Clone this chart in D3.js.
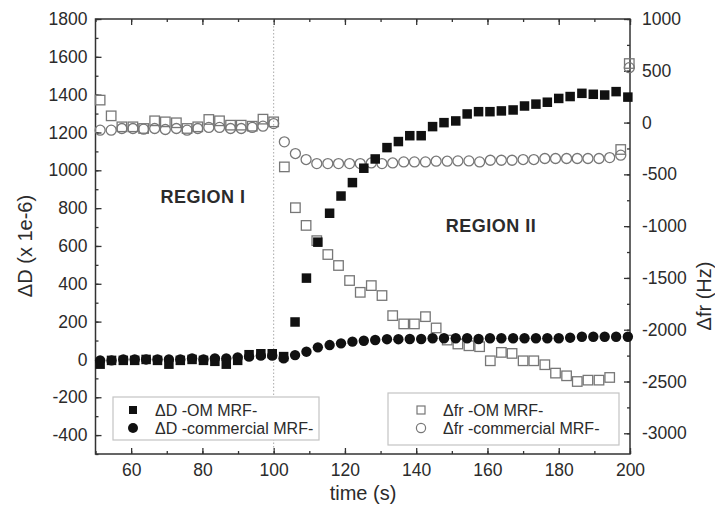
<!DOCTYPE html>
<html>
<head>
<meta charset="utf-8">
<script src="https://cdn.jsdelivr.net/npm/d3@7"></script>
<style>
  body { margin: 0; background: #fff; }
  text { font-family: "Liberation Sans", Arial, sans-serif; fill: #2b2b2b; }
</style>
</head>
<body>
<svg id="chart" width="715" height="508"></svg>
<script>
// ΔD series (left axis), sampled every ~3.2 s
const timeD = [51.3, 54.5, 57.8, 61, 64.2, 67.4, 70.6, 73.8, 77.1, 80.3, 83.5, 86.7, 89.9, 93.1, 96.4, 99.6,
  102.8, 106, 109.2, 112.4, 115.7, 118.9, 122.1, 125.3, 128.5, 131.8, 135, 138.2, 141.4, 144.6, 147.8,
  151.1, 154.3, 157.5, 160.7, 163.9, 167.2, 170.4, 173.6, 176.8, 180, 183.2, 186.5, 189.7, 192.9, 196.1, 199.4];
const dOM = [-25, -5, -5, -5, 0, -5, -25, -5, 0, -5, -10, -25, -5, 25, 30, 30,
  15, 198, 430, 620, 773, 864, 935, 1011, 1060, 1120, 1152, 1183, 1183, 1231, 1252,
  1261, 1298, 1310, 1310, 1314, 1319, 1340, 1350, 1360, 1380, 1390, 1407, 1402, 1398, 1416, 1387];
const dCommercial = [-5, -5, 0, 0, 0, 0, 0, 0, 5, 0, 5, 5, 10, 15, 20, 20,
  6, 23, 41, 64, 76, 85, 94, 99, 103, 107, 107, 108, 108, 112, 112,
  112, 112, 108, 112, 112, 112, 112, 112, 112, 112, 115, 120, 120, 120, 120, 120];

// Δfr series (right axis), sampled every ~3 s
const timeFr = [51.3, 54.4, 57.4, 60.5, 63.5, 66.6, 69.6, 72.7, 75.7, 78.7, 81.8, 84.8, 87.9, 90.9, 94, 97, 100,
  103, 106.1, 109.1, 112.1, 115.2, 118.2, 121.3, 124.3, 127.4, 130.4, 133.4, 136.5, 139.5, 142.6, 145.6,
  148.7, 151.7, 154.8, 157.8, 160.8, 163.9, 166.9, 170, 173, 176.1, 179.1, 182.2, 185.2, 188.2, 191.3,
  194.3, 197.4, 199.8];
const frOM = [217, 65, -41, -41, -57, 17, 7, -2, -57, -41, 30, 17, -25, -25, -35, 33, 7,
  -428, -822, -993, -1140, -1274, -1380, -1525, -1639, -1574, -1670, -1864, -1944, -1944, -1874, -1983,
  -2100, -2138, -2155, -2164, -2300, -2219, -2229, -2300, -2300, -2338, -2419, -2445, -2500, -2487, -2487,
  -2461, -260, 570];
const frCommercial = [-73, -73, -57, -57, -64, -57, -67, -57, -73, -57, -47, -47, -57, -57, -47, -35, -10,
  -186, -299, -357, -396, -396, -396, -396, -396, -390, -396, -390, -380, -380, -380, -373,
  -373, -370, -370, -380, -364, -364, -364, -357, -357, -347, -347, -347, -347, -347, -347,
  -338, -315, 530];

const xTicks = [60, 80, 100, 120, 140, 160, 180, 200];
const leftTicks = [-400, -200, 0, 200, 400, 600, 800, 1000, 1200, 1400, 1600, 1800];
const rightTicks = [-3000, -2500, -2000, -1500, -1000, -500, 0, 500, 1000];
const legendLeft = ["\u0394D -OM MRF-", "\u0394D -commercial MRF-"];
const legendRight = ["\u0394fr -OM MRF-", "\u0394fr -commercial MRF-"];

const svg = d3.select("#chart");
const m = { left: 95.5, right: 630, top: 19, bottom: 454 };

const x = d3.scaleLinear().domain([50, 200]).range([m.left, m.right]);
const yL = d3.scaleLinear().domain([-500, 1800]).range([m.bottom, m.top]);
const yR = d3.scaleLinear().domain([-3200, 1000]).range([m.bottom, m.top]);

const ink = "#333";
const grey = "#777";
const plain = d => String(d); // hyphen minus, no thousands separator

function styleAxis(g) {
  g.select(".domain").remove();
  g.selectAll("line").attr("stroke", ink).attr("stroke-width", 1.3);
  g.selectAll("text").style("font-size", "17.5px").attr("fill", "#2b2b2b");
}

// minor ticks
const minorX = d3.range(50, 201, 10);
const minorL = d3.range(-500, 1801, 100);
const minorR = d3.range(-3250, 1001, 250).filter(v => v >= -3200);

svg.append("g").attr("transform", `translate(0,${m.bottom})`)
  .call(d3.axisBottom(x).tickValues(minorX).tickSize(-3).tickFormat("")).call(styleAxis);
svg.append("g").attr("transform", `translate(0,${m.top})`)
  .call(d3.axisTop(x).tickValues(minorX).tickSize(-3).tickFormat("")).call(styleAxis);
svg.append("g").attr("transform", `translate(${m.left},0)`)
  .call(d3.axisLeft(yL).tickValues(minorL).tickSize(-3).tickFormat("")).call(styleAxis);
svg.append("g").attr("transform", `translate(${m.right},0)`)
  .call(d3.axisRight(yR).tickValues(minorR).tickSize(-3).tickFormat("")).call(styleAxis);

// major ticks
svg.append("g").attr("transform", `translate(0,${m.bottom})`)
  .call(d3.axisBottom(x).tickValues(xTicks).tickSize(-6).tickPadding(10).tickFormat(plain)).call(styleAxis);
svg.append("g").attr("transform", `translate(0,${m.top})`)
  .call(d3.axisTop(x).tickValues(xTicks).tickSize(-6).tickFormat("")).call(styleAxis);
svg.append("g").attr("transform", `translate(${m.left},0)`)
  .call(d3.axisLeft(yL).tickValues(leftTicks).tickSize(-6).tickPadding(8).tickFormat(plain)).call(styleAxis);
svg.append("g").attr("transform", `translate(${m.right},0)`)
  .call(d3.axisRight(yR).tickValues(rightTicks).tickSize(-6).tickPadding(12).tickFormat(plain)).call(styleAxis);

// region divider
svg.append("line")
  .attr("x1", x(100)).attr("x2", x(100)).attr("y1", m.top).attr("y2", m.bottom)
  .attr("stroke", "#aaa").attr("stroke-width", 1).attr("stroke-dasharray", "1.5,2");

// frame
svg.append("rect")
  .attr("x", m.left).attr("y", m.top).attr("width", m.right - m.left).attr("height", m.bottom - m.top)
  .attr("fill", "none").attr("stroke", ink).attr("stroke-width", 1.5);

// axis titles
svg.append("text").attr("x", 363).attr("y", 500).attr("text-anchor", "middle")
  .style("font-size", "20px").text("time (s)");
svg.append("text").attr("transform", "translate(32,246) rotate(-90)").attr("text-anchor", "middle")
  .style("font-size", "20px").text("\u0394D (x 1e-6)");
svg.append("text").attr("transform", "translate(711,296) rotate(-90)").attr("text-anchor", "middle")
  .style("font-size", "20px").text("\u0394fr (Hz)");

// region labels
svg.append("text").attr("x", 203).attr("y", 203).attr("text-anchor", "middle")
  .style("font-size", "18px").style("font-weight", "bold").style("letter-spacing", "0.5px").text("REGION I");
svg.append("text").attr("x", 491).attr("y", 232).attr("text-anchor", "middle")
  .style("font-size", "18px").style("font-weight", "bold").style("letter-spacing", "0.5px").text("REGION II");

const plot = svg.append("g");
const sq = 9.5, rc = 5;

// Δfr open markers
plot.selectAll(".frc").data(timeFr).join("circle")
  .attr("cx", d => x(d)).attr("cy", (d, i) => yR(frCommercial[i])).attr("r", rc)
  .attr("fill", "none").attr("stroke", grey).attr("stroke-width", 1.3);
plot.selectAll(".fro").data(timeFr).join("rect")
  .attr("x", d => x(d) - sq / 2).attr("y", (d, i) => yR(frOM[i]) - sq / 2)
  .attr("width", sq).attr("height", sq)
  .attr("fill", "none").attr("stroke", grey).attr("stroke-width", 1.3);

// ΔD filled markers
plot.selectAll(".dc").data(timeD).join("circle")
  .attr("cx", d => x(d)).attr("cy", (d, i) => yL(dCommercial[i])).attr("r", 5.2)
  .attr("fill", "#111");
plot.selectAll(".do").data(timeD).join("rect")
  .attr("x", d => x(d) - sq / 2).attr("y", (d, i) => yL(dOM[i]) - sq / 2)
  .attr("width", sq).attr("height", sq).attr("fill", "#111");

// legends
function legend(x0, y0, w, h, symX, labels, filled) {
  const g = svg.append("g");
  g.append("rect").attr("x", x0).attr("y", y0).attr("width", w).attr("height", h)
    .attr("fill", "#fff").attr("stroke", "#c4c4c4").attr("stroke-width", 1.2);
  const rows = [410, 428];
  labels.forEach((lab, i) => {
    const cy = rows[i];
    if (i === 0) {
      g.append("rect").attr("x", symX - 4).attr("y", cy - 4).attr("width", 8).attr("height", 8)
        .attr("fill", filled ? "#111" : "none").attr("stroke", filled ? "none" : grey).attr("stroke-width", 1.2);
    } else {
      g.append("circle").attr("cx", symX).attr("cy", cy).attr("r", filled ? 5 : 4.6)
        .attr("fill", filled ? "#111" : "none").attr("stroke", filled ? "none" : grey).attr("stroke-width", 1.2);
    }
    g.append("text").attr("x", symX + 22).attr("y", cy + 5.5).style("font-size", "16px").text(lab);
  });
}
legend(113, 397, 206, 43, 133, legendLeft, true);
legend(388, 393, 231, 52, 421, legendRight, false);
</script>
</body>
</html>
